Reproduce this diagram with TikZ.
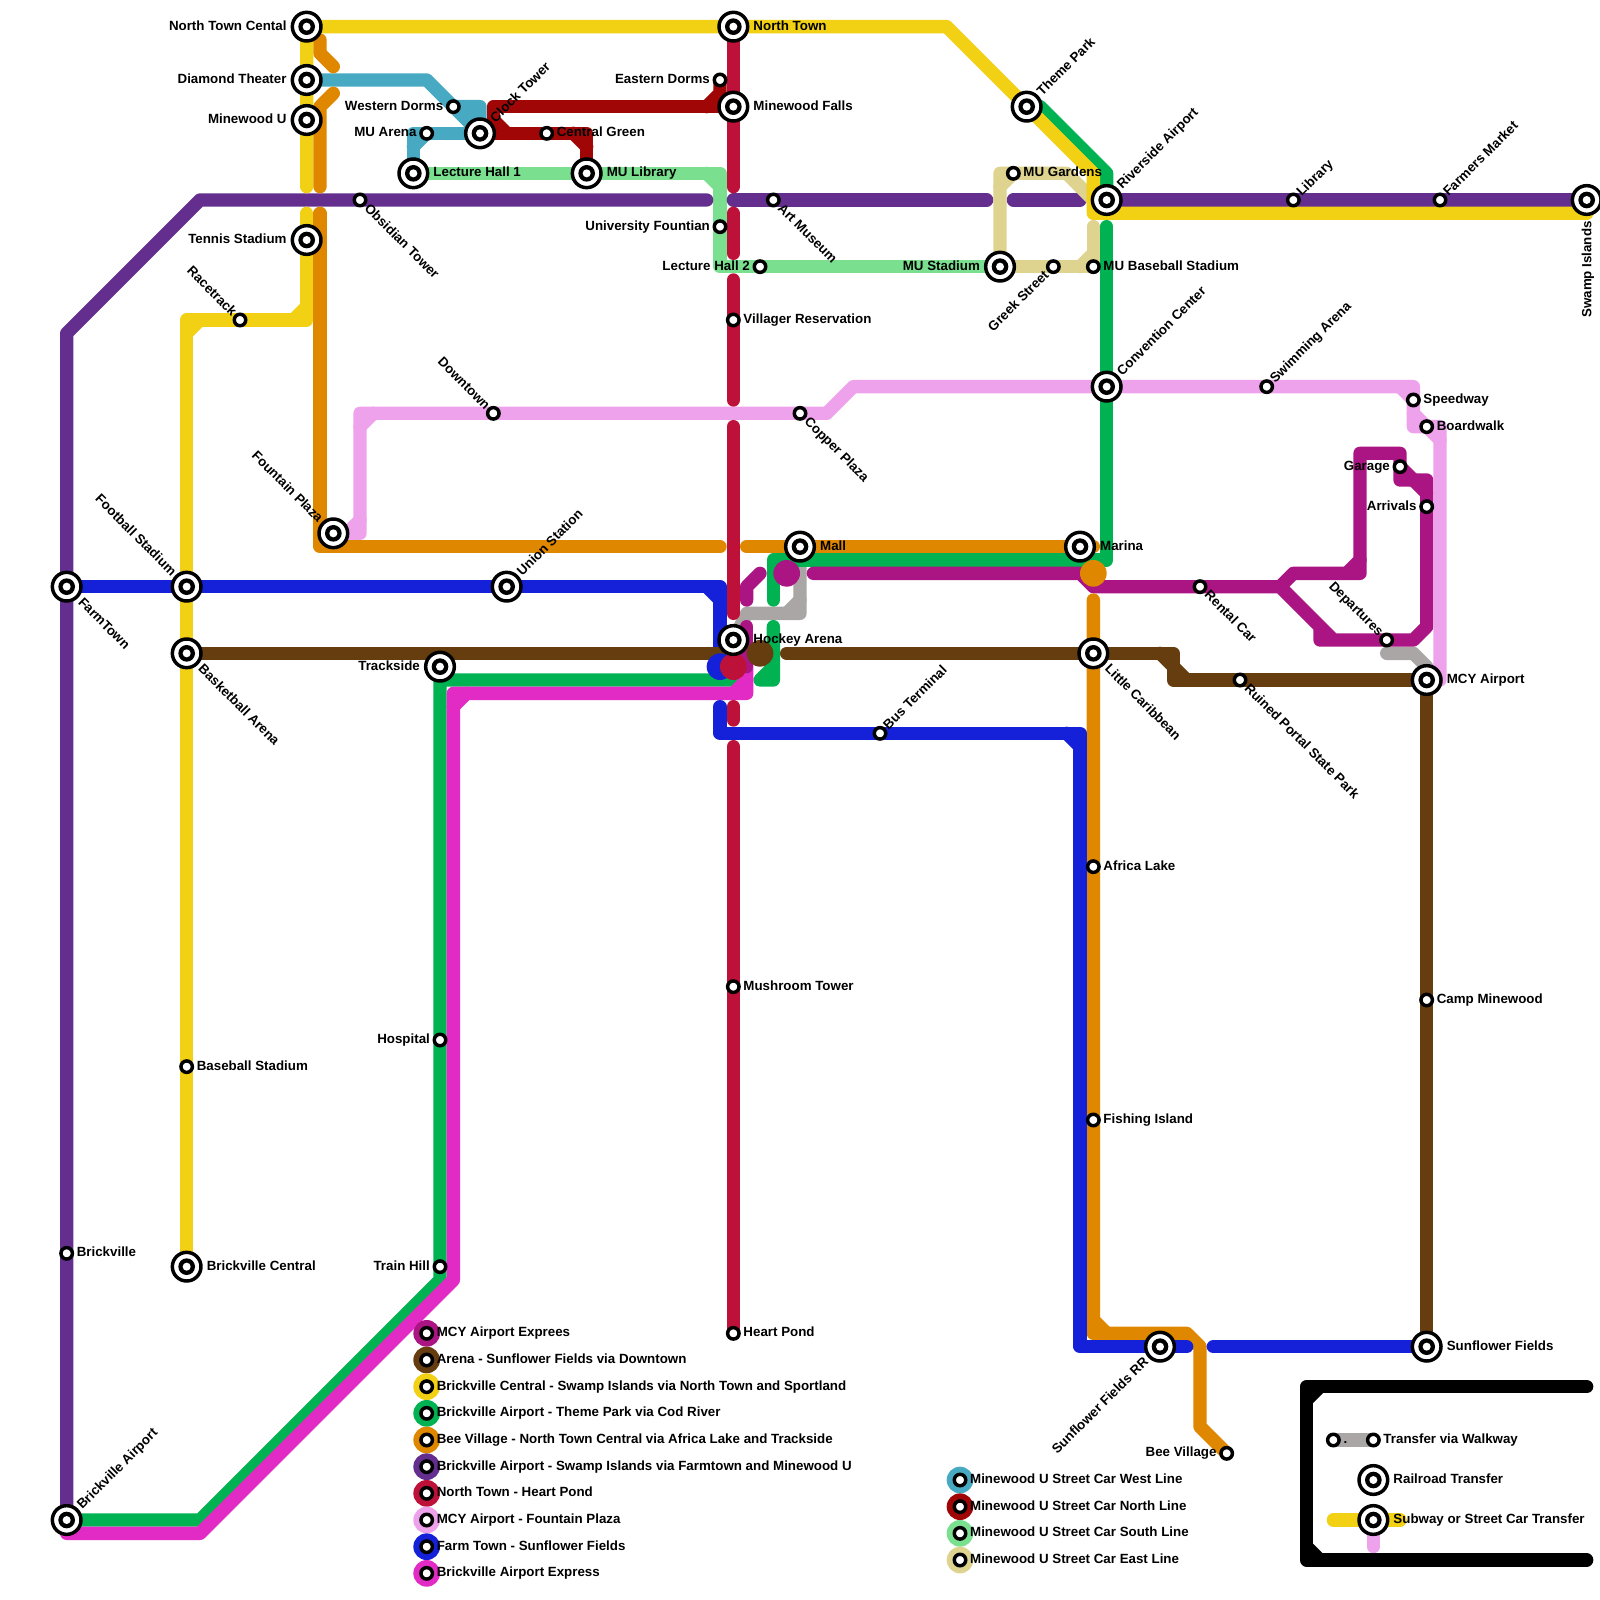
\documentclass[tikz,border=0pt]{standalone}
\usepackage{fontspec}
\setmainfont{Liberation Sans}[BoldFont={Liberation Sans Bold}]
\definecolor{cyel}{HTML}{F2D014}
\definecolor{cora}{HTML}{E08700}
\definecolor{clbl}{HTML}{47A9C2}
\definecolor{cdrd}{HTML}{A00606}
\definecolor{clgr}{HTML}{7AE08F}
\definecolor{cpur}{HTML}{642E8F}
\definecolor{ctan}{HTML}{DED38F}
\definecolor{cgry}{HTML}{A9A6A5}
\definecolor{cgrn}{HTML}{00B251}
\definecolor{chot}{HTML}{E22AC4}
\definecolor{cmag}{HTML}{AB1483}
\definecolor{cpnk}{HTML}{EFA2EC}
\definecolor{cblu}{HTML}{1521D9}
\definecolor{cbrn}{HTML}{663D0E}
\definecolor{ccri}{HTML}{BE1139}
\pgfdeclarelayer{lines}
\pgfsetlayers{lines,main}
\tikzset{
  ml/.style={line width=0.2cm,line cap=round,line join=round},
  smallst/.style={circle,draw=black,fill=white,line width=0.052cm,minimum size=0.172cm,inner sep=0pt},
  bigst/.style={circle,draw=black,fill=white,line width=0.052cm,minimum size=0.43cm,inner sep=0pt,
    path picture={\fill[black] (path picture bounding box.center) circle (0.125cm);
                  \fill[white] (path picture bounding box.center) circle (0.06cm);}},
  hub/.style={circle,inner sep=0pt,minimum size=0.4cm},
  lbl/.style={inner sep=0pt,font=\fontsize{5.69pt}{6pt}\selectfont\bfseries,text height=4pt,text depth=0pt,yshift=0.5pt},
  lE/.style={anchor=west},
  lW/.style={anchor=east},
  lNE/.style={anchor=west,rotate=45},
  lSE/.style={anchor=west,rotate=-45},
  lNW/.style={anchor=east,rotate=-45},
  lSW/.style={anchor=east,rotate=45},
  lS/.style={anchor=east,rotate=90}
}
\def\angE{0}\def\angW{180}\def\angNE{45}\def\angSE{-45}\def\angNW{135}\def\angSW{225}\def\angS{270}
\def\gsE{0.145cm}\def\gsW{0.145cm}\def\gsNE{0.105cm}\def\gsSE{0.145cm}\def\gsNW{0.105cm}\def\gsSW{0.145cm}\def\gsS{0.145cm}
\def\gbE{0.295cm}\def\gbW{0.295cm}\def\gbNE{0.255cm}\def\gbSE{0.295cm}\def\gbNW{0.255cm}\def\gbSW{0.295cm}\def\gbS{0.33cm}
\newcommand\SL[4]{\node[smallst] (#1) at (#2) {};
  \node[lbl,l#3] (#1-t) at ([shift={(\csname ang#3\endcsname:\csname gs#3\endcsname)}]#1.center) {#4};}
\newcommand\BL[4]{\node[bigst] (#1) at (#2) {};
  \node[lbl,l#3] (#1-t) at ([shift={(\csname ang#3\endcsname:\csname gb#3\endcsname)}]#1.center) {#4};}
\newcommand\LG[4]{\node[hub,fill=#3] (#1-d) at (#2) {};
  \node[smallst] (#1) at (#2) {};
  \node[lbl,lE] (#1-t) at ([shift={(0:0.145cm)}]#1.center) {#4};}
\begin{document}
\begin{tikzpicture}[x=0.2cm,y=-0.2cm]
\useasboundingbox (0,0) rectangle (120,120);
% stations
\BL{ntc}{23,2}{W}{North Town Cental}
\BL{dmd}{23,6}{W}{Diamond Theater}
\BL{mwu}{23,9}{W}{Minewood U}
\BL{ten}{23,18}{W}{Tennis Stadium}
\SL{rac}{18,24}{NW}{Racetrack}
\SL{obs}{27,15}{SE}{Obsidian Tower}
\SL{wdm}{34,8}{W}{Western Dorms}
\SL{mua}{32,10}{W}{MU Arena}
\BL{clk}{36,10}{NE}{Clock Tower}
\BL{lh1}{31,13}{E}{Lecture Hall 1}
\BL{mul}{44,13}{E}{MU Library}
\SL{cgr}{41,10}{E}{Central Green}
\SL{edm}{54,6}{W}{Eastern Dorms}
\BL{nt}{55,2}{E}{North Town}
\BL{mwf}{55,8}{E}{Minewood Falls}
\SL{uft}{54,17}{W}{University Fountian}
\SL{lh2}{57,20}{W}{Lecture Hall 2}
\SL{art}{58,15}{SE}{Art Museum}
\SL{vil}{55,24}{E}{Villager Reservation}
\SL{dwn}{37,31}{NW}{Downtown}
\SL{cop}{60,31}{SE}{Copper Plaza}
\BL{fnt}{25,40}{NW}{Fountain Plaza}
\BL{uni}{38,44}{NE}{Union Station}
\BL{fbs}{14,44}{NW}{Football Stadium}
\BL{frm}{5,44}{SE}{FarmTown}
\BL{bka}{14,49}{SE}{Basketball Arena}
\BL{trk}{33,50}{W}{Trackside}
\BL{hok}{55,48}{E}{Hockey Arena}
\BL{mal}{60,41}{E}{Mall}
\BL{mar}{81,41}{E}{Marina}
\SL{bus}{66,55}{NE}{Bus Terminal}
\BL{lcb}{82,49}{SE}{Little Caribbean}
\SL{msh}{55,74}{E}{Mushroom Tower}
\SL{hpd}{55,100}{E}{Heart Pond}
\SL{afr}{82,65}{E}{Africa Lake}
\SL{fsh}{82,84}{E}{Fishing Island}
\BL{sfr}{87,101}{SW}{Sunflower Fields RR}
\SL{bee}{92,109}{W}{Bee Village}
\BL{sfl}{107,101}{E}{Sunflower Fields}
\SL{cmw}{107,75}{E}{Camp Minewood}
\BL{mcy}{107,51}{E}{MCY Airport}
\SL{rpp}{93,51}{SE}{Ruined Portal State Park}
\SL{rnt}{90,44}{SE}{Rental Car}
\SL{dep}{104,48}{NW}{Departures}
\SL{arr}{107,38}{W}{Arrivals}
\SL{gar}{105,35}{W}{Garage}
\SL{brd}{107,32}{E}{Boardwalk}
\SL{spd}{106,30}{E}{Speedway}
\SL{swm}{95,29}{NE}{Swimming Arena}
\BL{con}{83,29}{NE}{Convention Center}
\SL{mbb}{82,20}{E}{MU Baseball Stadium}
\SL{grk}{79,20}{SW}{Greek Street}
\BL{mus}{75,20}{W}{MU Stadium}
\SL{mug}{76,13}{E}{MU Gardens}
\BL{riv}{83,15}{NE}{Riverside Airport}
\BL{thp}{77,8}{NE}{Theme Park}
\SL{lib}{97,15}{NE}{Library}
\SL{fmk}{108,15}{NE}{Farmers Market}
\BL{swp}{119,15}{S}{Swamp Islands}
\SL{bsb}{14,80}{E}{Baseball Stadium}
\BL{bkc}{14,95}{E}{Brickville Central}
\SL{hos}{33,78}{W}{Hospital}
\SL{trn}{33,95}{W}{Train Hill}
\SL{bkv}{5,94}{E}{Brickville}
\BL{bap}{5,114}{NE}{Brickville Airport}
% legends
\LG{a1}{32,100}{cmag}{MCY Airport Exprees}
\LG{a2}{32,102}{cbrn}{Arena - Sunflower Fields via Downtown}
\LG{a3}{32,104}{cyel}{Brickville Central - Swamp Islands via North Town and Sportland}
\LG{a4}{32,106}{cgrn}{Brickville Airport - Theme Park via Cod River}
\LG{a5}{32,108}{cora}{Bee Village - North Town Central via Africa Lake and Trackside}
\LG{a6}{32,110}{cpur}{Brickville Airport - Swamp Islands via Farmtown and Minewood U}
\LG{a7}{32,112}{ccri}{North Town - Heart Pond}
\LG{a8}{32,114}{cpnk}{MCY Airport - Fountain Plaza}
\LG{a9}{32,116}{cblu}{Farm Town - Sunflower Fields}
\LG{a10}{32,118}{chot}{Brickville Airport Express}
\LG{b1}{72,111}{clbl}{Minewood U Street Car West Line}
\LG{b2}{72,113}{cdrd}{Minewood U Street Car North Line}
\LG{b3}{72,115}{clgr}{Minewood U Street Car South Line}
\LG{b4}{72,117}{ctan}{Minewood U Street Car East Line}
\node[smallst] (k1) at (100,108) {};
\node[lbl,anchor=center] (k1t) at (100.9,108) {.};
\SL{k2}{103,108}{E}{Transfer via Walkway}
\BL{k3}{103,111}{E}{Railroad Transfer}
\BL{k4}{103,114}{E}{Subway or Street Car Transfer}
\coordinate (kya) at (100,114);
\coordinate (kyb) at (105,114);
\coordinate (kpk) at (103,116);
\begin{pgfonlayer}{lines}
% street cars
\fill[clbl] (wdm.center) -- (36,8) -- (clk.center) -- cycle;
\draw[ml,clbl] (dmd.center) -- (32,6) -- (wdm.center) -- (36,8) -- (clk.center) -- (wdm.center);
\draw[ml,clbl] (clk.center) -- (31,10) -- (lh1.center);
\draw[ml,clbl] (31,11) -- (mua.center);
\draw[ml,cdrd] (mwf.center) -- (37,8) -- (37,10) -- (clk.center) -- (43,10) -- (44,10) -- (mul.center);
\draw[ml,cdrd] (37,9) -- (38,10);
\draw[ml,cdrd] (43,10) -- (44,11);
\draw[ml,cdrd] (53,8) -- (54,7) -- (edm.center) -- (54,8);
\draw[ml,clgr] (lh1.center) -- (mul.center) -- (54,13) -- (54,20) -- (lh2.center) -- (mus.center);
\draw[ml,clgr] (53,13) -- (54,14);
% purple
\draw[ml,cpur] (bap.center) -- (bkv.center) -- (5,25) -- (15,15) -- (53,15);
\draw[ml,cpur] (55,15) -- (74,15);
\draw[ml,cpur] (76,15) -- (81,15);
\draw[ml,cpur] (riv.center) -- (swp.center);
% tan
\draw[ml,ctan] (mus.center) -- (75,13) -- (80,13) -- (82,15);
\draw[ml,ctan] (75,14) -- (mug.center);
\draw[ml,ctan] (mus.center) -- (mbb.center) -- (82,17);
\draw[ml,ctan] (81,20) -- (82,19);
% gray
\draw[ml,cgry] (mal.center) -- (60,46) -- (56,46) -- (hok.center);
\draw[ml,cgry] (59,46) -- (60,45);
\draw[ml,cgry] (104,49) -- (106,49) -- (107,50) -- (mcy.center);
\draw[ml,cgry] (k1.center) -- (k2.center);
% green
\draw[ml,cgrn] (bap.center) -- (15,114) -- (33,96) -- (trn.center) -- (hos.center) -- (33,51) -- (55,51);
\draw[ml,cgrn] (58,47) -- (58,51) -- (57,51) -- (58,50);
\draw[ml,cgrn] (58,45) -- (58,42) -- (83,42) -- (83,17);
\draw[ml,cgrn] (78,8) -- (83,13) -- (riv.center);
% hot pink
\draw[ml,chot] (5,115) -- (15,115) -- (34,96) -- (34,52) -- (56,52) -- (56,49);
\draw[ml,chot] (34,53) -- (35,52);
\draw[ml,chot] (55,52) -- (56,51);
% magenta
\draw[ml,cmag] (61,43) -- (81,43) -- (82,44) -- (rnt.center) -- (96,44) -- (97,43) -- (102,43) -- (102,34) -- (105,34) -- (105,36) -- (107,36) -- (arr.center) -- (107,47) -- (106,48) -- (dep.center) -- (99,48) -- (99,47) -- (96,44) -- (100,48);
\draw[ml,cmag] (101,43) -- (102,42);
\draw[ml,cmag] (105,35) -- (107,37);
\draw[ml,cmag] (56,45) -- (56,44) -- (57,43);
\draw[ml,cmag] (56,47) -- (56,50);
% pink
\draw[ml,cpnk] (26,40) -- (27,40) -- (27,31) -- (dwn.center) -- (cop.center) -- (62,31) -- (64,29) -- (con.center) -- (swm.center) -- (106,29) -- (106,32) -- (brd.center) -- (108,32) -- (108,51) -- (mcy.center);
\draw[ml,cpnk] (105,29) -- (106,30);
\draw[ml,cpnk] (106,31) -- (108,33);
\draw[ml,cpnk] (27,32) -- (28,31);
\draw[ml,cpnk] (26,40) -- (27,39);
\draw[ml,cpnk] (k4.center) -- (kpk);
% yellow
\draw[ml,cyel] (bkc.center) -- (bsb.center) -- (14,24) -- (23,24) -- (ten.center) -- (23,16);
\draw[ml,cyel] (14,25) -- (15,24);
\draw[ml,cyel] (22,24) -- (23,23);
\draw[ml,cyel] (23,14) -- (mwu.center) -- (dmd.center) -- (ntc.center) -- (nt.center) -- (71,2) -- (thp.center) -- (82,13) -- (82,16) -- (119,16);
\draw[ml,cyel] (kya) -- (kyb);
% orange
\draw[ml,cora] (bee.center) -- (90,107) -- (90,101) -- (89,100) -- (82,100) -- (fsh.center) -- (afr.center) -- (lcb.center) -- (82,45);
\draw[ml,cora] (82,99) -- (83,100);
\draw[ml,cora] (82,41) -- (mar.center) -- (56,41);
\draw[ml,cora] (54,41) -- (24,41) -- (24,16);
\draw[ml,cora] (24,14) -- (24,8) -- (25,7);
\draw[ml,cora] (24,3) -- (24,4) -- (25,5);
% blue
\draw[ml,cblu] (frm.center) -- (uni.center) -- (54,44) -- (54,49);
\draw[ml,cblu] (53,44) -- (54,45);
\draw[ml,cblu] (54,53) -- (54,55) -- (bus.center) -- (81,55) -- (81,101) -- (sfr.center) -- (89,101);
\draw[ml,cblu] (80,55) -- (81,56);
\draw[ml,cblu] (91,101) -- (sfl.center);
% brown
\draw[ml,cbrn] (bka.center) -- (trk.center |- bka.center) -- (54,49);
\draw[ml,cbrn] (59,49) -- (lcb.center) -- (88,49) -- (88,51) -- (rpp.center) -- (mcy.center) -- (cmw.center) -- (sfl.center);
\draw[ml,cbrn] (87,49) -- (89,51);
% crimson
\draw[ml,ccri] (nt.center) -- (55,14);
\draw[ml,ccri] (55,16) -- (55,19);
\draw[ml,ccri] (55,21) -- (55,30);
\draw[ml,ccri] (55,32) -- (55,46);
\draw[ml,ccri] (55,53) -- (55,54);
\draw[ml,ccri] (55,56) -- (hpd.center);
% hubs
\node[hub,fill=cblu] (h1) at (54,50) {};
\node[hub,fill=ccri] (h2) at (55,50) {};
\node[hub,fill=cbrn] (h3) at (57,49) {};
\node[hub,fill=cmag] (h4) at (59,43) {};
\node[hub,fill=cora] (h5) at (82,43) {};
% legend frame
\draw[ml,black] (119,104) -- (98,104) -- (98,117) -- (119,117);
\draw[ml,black] (98,105) -- (99,104);
\draw[ml,black] (98,116) -- (99,117);
\end{pgfonlayer}
\end{tikzpicture}
\end{document}
